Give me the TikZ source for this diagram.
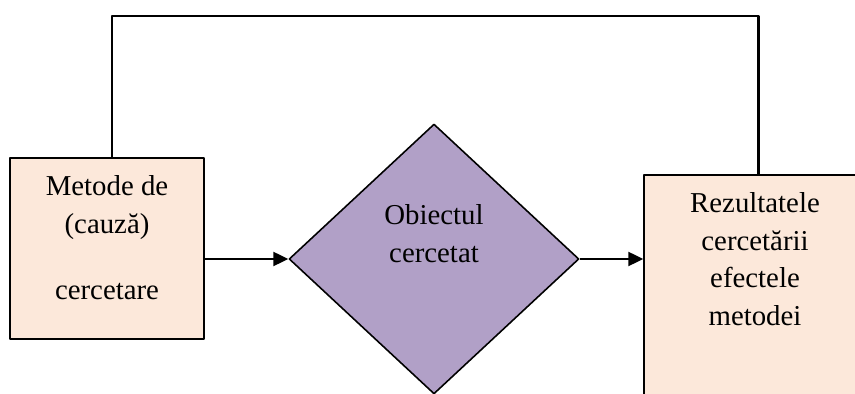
\documentclass[tikz,border=0pt]{standalone}
\usepackage{fontspec}
\setmainfont{Liberation Serif}
\usetikzlibrary{shapes.geometric,arrows.meta}
\definecolor{boxfill}{RGB}{252,232,218}
\definecolor{diafill}{RGB}{177,160,199}
\begin{document}
\begin{tikzpicture}[x=0.02cm,y=-0.02cm,line join=round,>={Triangle[length=8.5pt,width=8pt]}]
			\tikzset{box/.style={draw,line width=0.9pt,fill=boxfill,inner sep=0pt},
				txt/.style={inner sep=0pt,anchor=north,align=center,font=\rmfamily\fontsize{16.4}{21.5}\selectfont}}
			\useasboundingbox (0,0) rectangle (855,394);
			\clip (0,0) rectangle (855,394);
			\node[box,minimum width=3.88cm,minimum height=3.62cm] (metode) at (107,248.5) {};
			\node[box,minimum width=4.72cm,minimum height=5.1cm] (rez) at (762,302.5) {};
			\node[diamond,draw,line width=0.9pt,fill=diafill,inner sep=0pt,minimum width=5.8cm,minimum height=5.4cm] (obiect) at (434,259) {};
			\node[txt] (metodetxt) at (107,175) {Metode de\\(cauză)\\[16pt]cercetare};
			\node[txt] (obiecttxt) at (434,204) {Obiectul\\cercetat};
			\node[txt] (reztxt) at (755,192) {Rezultatele\\cercetării\\efectele\\metodei};
			\coordinate (sus) at (0,16);
			\draw[line width=1.2pt,->] (obiect.west -| metode.east)--(obiect.west);
			\draw[line width=1.2pt,->] (obiect.east)--(obiect.east -| rez.west);
			\draw[line width=1.2pt] ([xshift=3]metode.north)--([xshift=3]metode.north |- sus)--([xshift=-2]rez.north |- sus)--([xshift=-2]rez.north);
	\end{tikzpicture}
\end{document}
